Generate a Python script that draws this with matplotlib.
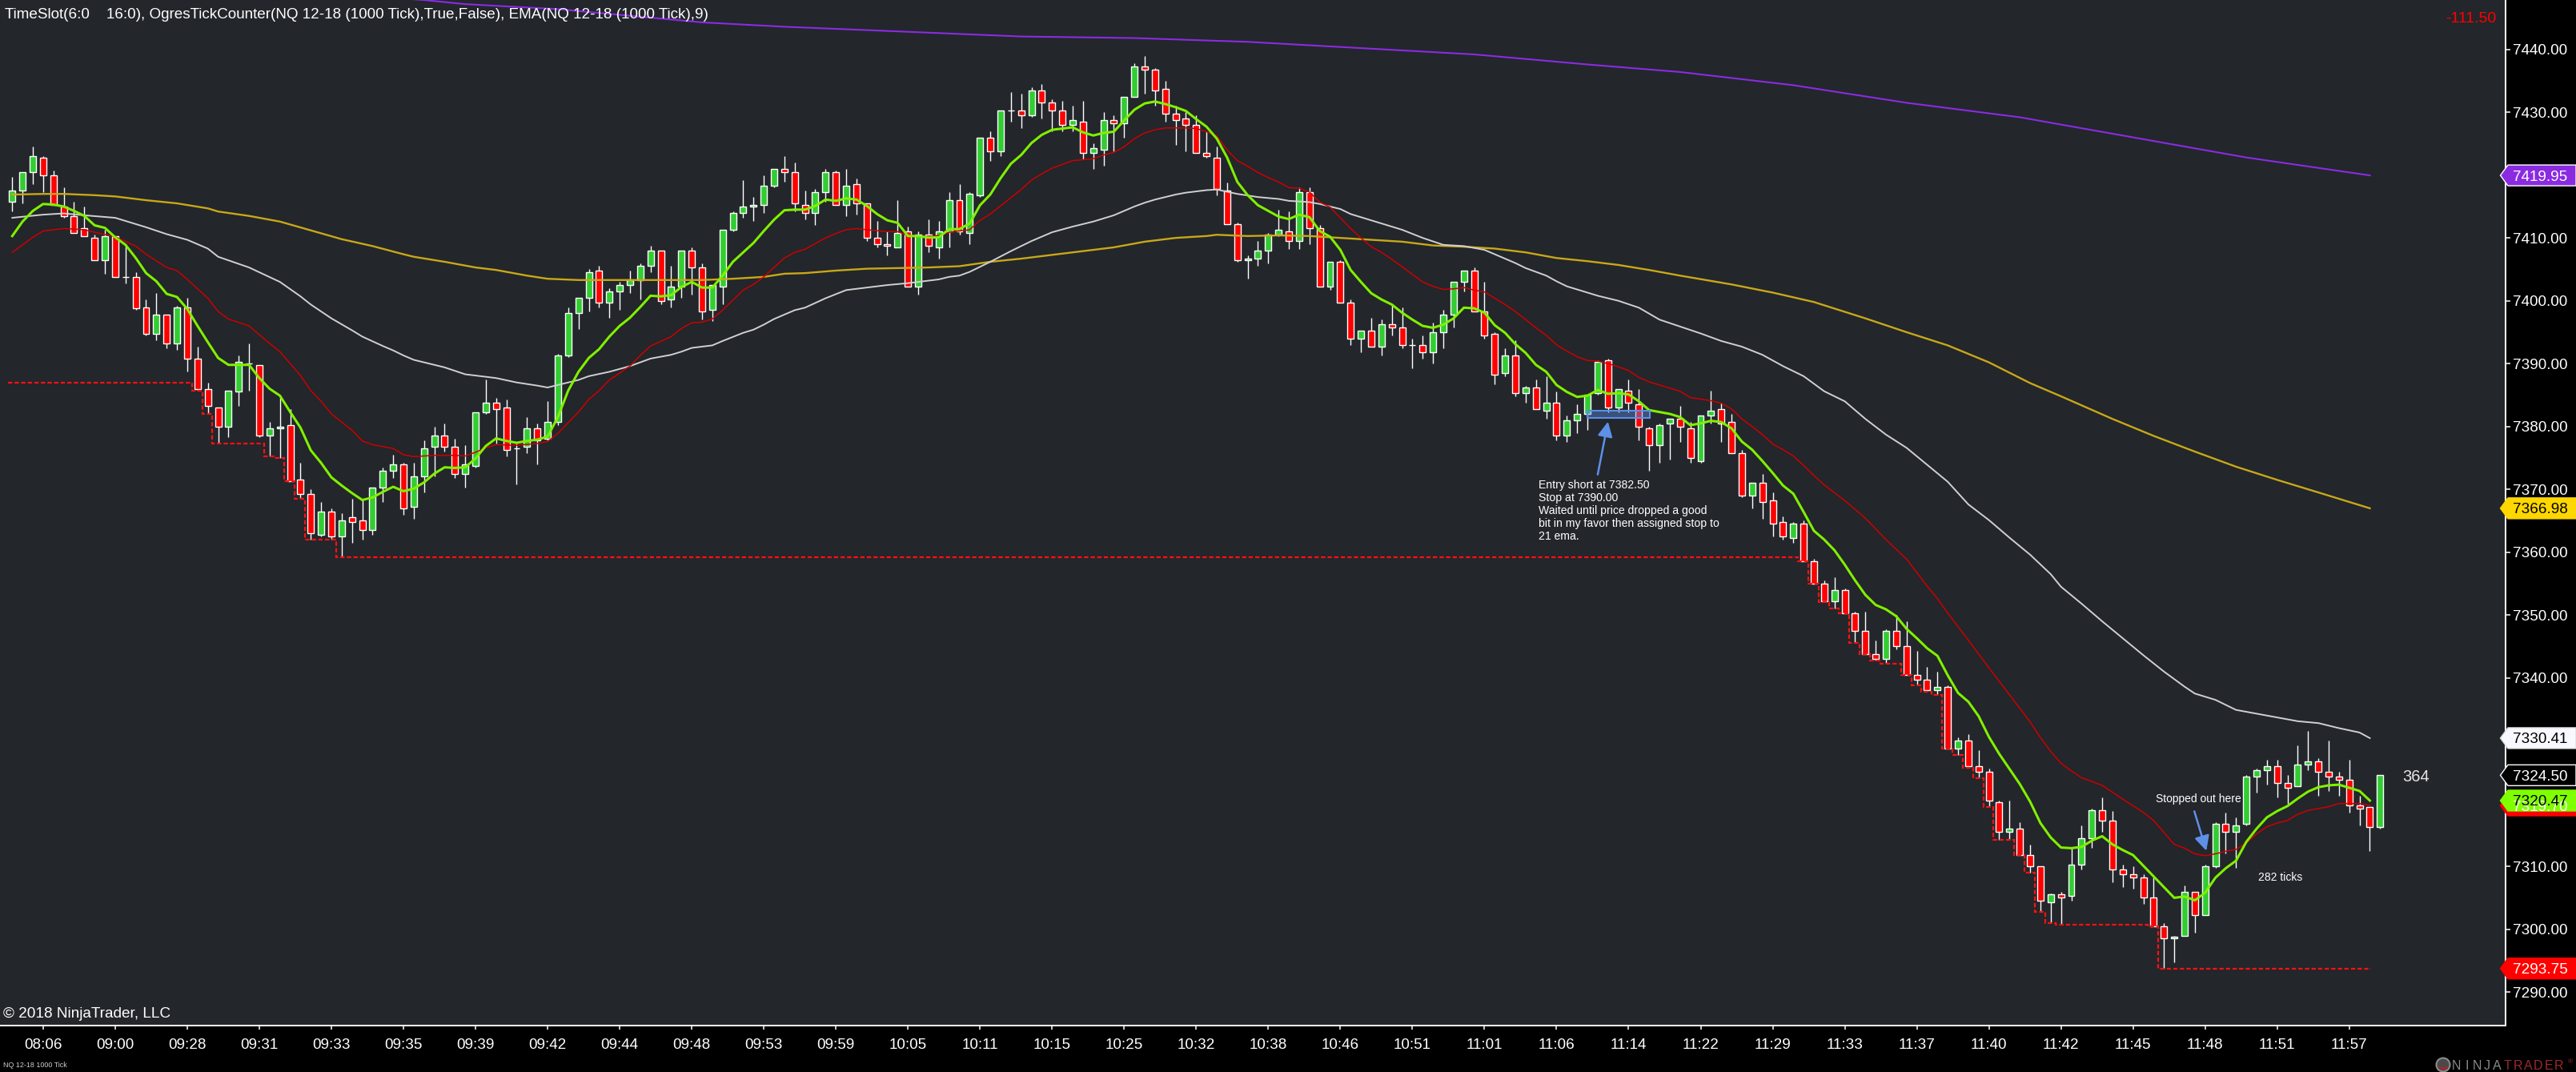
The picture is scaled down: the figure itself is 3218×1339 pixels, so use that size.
import numpy as np
import matplotlib
matplotlib.use("Agg")
import matplotlib.pyplot as plt
import matplotlib.transforms as mtransforms
from matplotlib.patches import Polygon, Rectangle, Circle, Wedge

plt.rcParams['font.family'] = ['Liberation Sans', 'DejaVu Sans']

# ---------------- DATA ----------------
opens = [
    7415.75, 7417.5, 7420.5, 7422.75, 7420.0, 7415.0, 7413.5, 7411.5, 7410.0, 7406.5,
    7410.25, 7403.75, 7403.75, 7399.0, 7394.75, 7397.75, 7393.25, 7399.0, 7390.75, 7386.0,
    7383.0, 7380.0, 7385.5, 7390.0, 7389.75, 7378.5, 7379.75, 7380.25, 7371.5, 7369.25,
    7362.75, 7366.5, 7362.5, 7365.5, 7365.0, 7363.5, 7370.25, 7373.0, 7374.0, 7367.25,
    7372.0, 7376.75, 7378.5, 7376.75, 7372.5, 7373.75, 7382.25, 7383.75, 7383.0, 7376.5,
    7376.75, 7379.75, 7378.0, 7380.75, 7391.25, 7398.0, 7400.5, 7404.75, 7399.75, 7401.5,
    7402.5, 7403.25, 7405.5, 7408.0, 7400.25, 7402.25, 7408.0, 7405.25, 7398.5, 7402.25,
    7411.25, 7414.0, 7415.0, 7415.25, 7418.25, 7421.0, 7420.5, 7415.25, 7414.0, 7417.25,
    7420.5, 7415.25, 7418.5, 7415.5, 7410.0, 7409.0, 7408.5, 7411.0, 7402.25, 7410.5,
    7408.5, 7411.0, 7416.0, 7410.75, 7416.75, 7426.0, 7423.75, 7430.25, 7430.25, 7429.5,
    7433.5, 7431.5, 7430.25, 7428.0, 7428.5, 7423.5, 7424.0, 7428.75, 7428.25, 7432.5,
    7437.25, 7436.75, 7433.75, 7429.75, 7429.0, 7428.0, 7423.5, 7422.75, 7417.5, 7412.25,
    7406.5, 7406.75, 7408.0, 7410.5, 7411.0, 7409.5, 7417.25, 7411.5, 7402.25, 7406.25,
    7399.75, 7394.0, 7395.25, 7392.75, 7396.25, 7395.75, 7393.0, 7393.0, 7391.75, 7395.0,
    7397.75, 7403.0, 7404.75, 7398.25, 7394.75, 7388.5, 7391.25, 7385.25, 7386.25, 7382.5,
    7383.75, 7378.5, 7381.0, 7382.0, 7385.25, 7390.5, 7383.0, 7385.75, 7383.5, 7379.75,
    7377.0, 7380.5, 7381.25, 7379.75, 7374.5, 7381.75, 7382.75, 7380.75, 7375.75, 7369.0,
    7371.0, 7368.25, 7364.75, 7362.25, 7364.5, 7358.5, 7355.0, 7352.25, 7354.0, 7350.25,
    7347.5, 7343.75, 7343.0, 7347.5, 7345.0, 7340.5, 7339.75, 7338.0, 7338.5, 7328.75,
    7330.0, 7326.0, 7325.0, 7320.25, 7315.5, 7316.0, 7311.75, 7310.0, 7304.25, 7305.5,
    7305.25, 7310.25, 7314.5, 7319.0, 7317.25, 7309.5, 7308.75, 7308.25, 7305.0, 7300.5,
    7298.5, 7299.0, 7306.0, 7302.25, 7310.0, 7316.75, 7315.5, 7316.75, 7324.25, 7325.25,
    7326.0, 7323.25, 7322.75, 7326.25, 7326.75, 7325.0, 7324.25, 7323.75, 7319.75, 7319.5,
    7316.25]

highs = [
    7419.75, 7420.5, 7424.5, 7423.0, 7420.75, 7418.0, 7415.75, 7415.0, 7410.5, 7411.25,
    7410.25, 7409.0, 7404.5, 7400.25, 7401.25, 7397.75, 7399.25, 7400.5, 7392.75, 7387.0,
    7383.0, 7385.75, 7391.25, 7393.25, 7389.75, 7380.75, 7384.5, 7382.75, 7374.25, 7370.0,
    7368.0, 7367.0, 7366.25, 7368.5, 7368.5, 7370.25, 7373.5, 7375.5, 7374.25, 7374.25,
    7377.75, 7380.0, 7380.5, 7378.0, 7377.0, 7382.25, 7387.5, 7384.5, 7384.25, 7377.25,
    7381.5, 7380.5, 7384.0, 7391.5, 7399.0, 7400.5, 7405.0, 7405.5, 7402.0, 7403.0,
    7404.75, 7406.0, 7408.75, 7408.0, 7405.5, 7408.0, 7408.5, 7406.0, 7402.5, 7411.25,
    7414.25, 7419.25, 7416.5, 7420.0, 7421.0, 7423.0, 7422.0, 7417.5, 7417.75, 7421.0,
    7420.75, 7421.0, 7419.5, 7415.5, 7412.75, 7411.0, 7416.0, 7411.75, 7411.0, 7413.0,
    7412.75, 7417.25, 7418.5, 7417.25, 7426.0, 7427.0, 7430.25, 7433.25, 7433.0, 7434.0,
    7434.5, 7432.0, 7431.75, 7431.0, 7431.75, 7425.0, 7430.0, 7429.5, 7432.5, 7437.75,
    7439.0, 7437.0, 7435.0, 7431.0, 7430.0, 7429.5, 7427.0, 7424.5, 7418.75, 7412.5,
    7407.25, 7409.5, 7410.75, 7414.5, 7414.25, 7418.0, 7418.0, 7412.0, 7406.25, 7406.5,
    7400.25, 7395.25, 7397.25, 7397.0, 7399.5, 7399.0, 7394.0, 7394.5, 7396.5, 7398.5,
    7403.0, 7404.75, 7405.25, 7403.0, 7395.0, 7392.5, 7393.75, 7386.5, 7387.5, 7388.0,
    7385.5, 7381.75, 7383.5, 7385.0, 7390.5, 7390.75, 7386.0, 7387.5, 7386.0, 7380.0,
    7380.5, 7381.25, 7383.25, 7380.75, 7381.75, 7385.75, 7383.75, 7382.0, 7376.25, 7371.0,
    7372.5, 7369.5, 7365.75, 7364.75, 7365.0, 7359.0, 7355.5, 7356.0, 7354.25, 7350.5,
    7350.5, 7346.0, 7347.75, 7350.0, 7349.0, 7344.25, 7341.75, 7341.0, 7338.75, 7330.5,
    7331.0, 7328.5, 7325.5, 7320.5, 7320.5, 7317.0, 7313.5, 7310.0, 7305.75, 7306.0,
    7313.0, 7316.5, 7319.25, 7321.0, 7318.75, 7310.25, 7310.0, 7308.75, 7308.25, 7301.0,
    7299.0, 7307.0, 7306.0, 7310.25, 7317.0, 7318.5, 7317.75, 7324.5, 7325.5, 7327.0,
    7327.0, 7324.5, 7329.25, 7331.5, 7327.25, 7330.0, 7325.0, 7327.0, 7321.25, 7319.5,
    7324.5]

lows = [
    7414.25, 7415.5, 7418.5, 7417.25, 7415.25, 7413.25, 7410.75, 7410.25, 7406.5, 7404.25,
    7403.75, 7402.75, 7398.5, 7394.5, 7393.75, 7392.5, 7392.25, 7388.75, 7385.75, 7382.0,
    7377.25, 7378.25, 7383.25, 7385.75, 7378.25, 7375.25, 7375.0, 7371.25, 7368.5, 7362.0,
    7362.5, 7362.0, 7359.25, 7361.5, 7362.0, 7362.75, 7368.0, 7371.75, 7366.0, 7365.25,
    7369.5, 7372.0, 7376.0, 7371.75, 7370.25, 7373.5, 7382.0, 7377.25, 7375.25, 7370.75,
    7375.75, 7374.0, 7377.75, 7380.25, 7391.0, 7395.5, 7398.25, 7399.0, 7397.25, 7398.5,
    7401.25, 7400.25, 7404.5, 7399.5, 7399.0, 7400.5, 7401.0, 7397.0, 7396.75, 7399.5,
    7411.0, 7413.25, 7412.75, 7414.0, 7418.0, 7419.0, 7414.25, 7413.0, 7412.0, 7415.75,
    7415.25, 7413.5, 7413.75, 7409.5, 7408.5, 7407.25, 7408.5, 7402.25, 7401.0, 7407.75,
    7406.75, 7408.5, 7410.5, 7409.0, 7416.5, 7422.25, 7423.0, 7428.5, 7427.5, 7429.25,
    7429.0, 7427.0, 7427.0, 7427.0, 7422.5, 7421.0, 7421.5, 7423.75, 7426.0, 7432.5,
    7433.0, 7431.0, 7428.5, 7424.75, 7423.75, 7423.5, 7422.75, 7416.75, 7412.25, 7406.25,
    7403.5, 7405.5, 7406.0, 7410.25, 7408.25, 7408.25, 7409.0, 7402.25, 7401.75, 7399.75,
    7393.0, 7391.75, 7392.75, 7391.25, 7394.5, 7392.5, 7389.25, 7390.75, 7390.0, 7392.5,
    7395.75, 7401.5, 7398.25, 7394.0, 7386.75, 7388.0, 7384.75, 7383.75, 7382.75, 7381.25,
    7377.75, 7377.5, 7379.0, 7379.5, 7385.0, 7382.25, 7382.25, 7382.25, 7377.75, 7373.0,
    7374.25, 7374.75, 7377.5, 7374.25, 7374.25, 7380.5, 7377.5, 7375.75, 7368.75, 7367.0,
    7365.25, 7362.5, 7362.0, 7361.5, 7358.5, 7355.0, 7352.0, 7351.0, 7350.25, 7345.5,
    7343.75, 7342.75, 7342.25, 7344.5, 7340.5, 7338.75, 7337.75, 7337.25, 7328.75, 7327.75,
    7325.75, 7324.0, 7319.5, 7314.25, 7314.25, 7311.75, 7309.0, 7302.75, 7301.0, 7300.75,
    7304.5, 7309.5, 7313.0, 7315.5, 7307.5, 7306.75, 7306.5, 7304.0, 7300.5, 7293.75,
    7294.75, 7299.0, 7299.5, 7302.25, 7309.75, 7312.0, 7309.75, 7316.5, 7321.75, 7323.0,
    7321.0, 7320.0, 7322.75, 7325.25, 7321.25, 7322.0, 7321.25, 7318.5, 7316.5, 7312.5,
    7316.0]

closes = [
    7417.5, 7420.5, 7423.0, 7420.0, 7415.25, 7413.5, 7410.75, 7410.25, 7406.5, 7410.25,
    7403.75, 7403.75, 7398.75, 7394.75, 7397.75, 7393.25, 7399.0, 7390.75, 7386.0, 7383.25,
    7380.0, 7385.75, 7390.25, 7390.0, 7378.5, 7379.75, 7380.0, 7371.25, 7369.25, 7363.0,
    7366.5, 7362.5, 7365.0, 7364.75, 7363.5, 7370.25, 7373.0, 7374.0, 7367.0, 7372.0,
    7376.5, 7378.5, 7376.75, 7372.5, 7374.0, 7382.25, 7383.75, 7382.75, 7376.25, 7376.5,
    7379.75, 7377.75, 7380.75, 7391.25, 7398.0, 7400.5, 7404.5, 7399.75, 7401.5, 7402.5,
    7403.25, 7405.5, 7408.0, 7400.0, 7402.25, 7408.0, 7405.25, 7398.25, 7402.5, 7411.25,
    7414.0, 7415.0, 7415.25, 7418.25, 7421.0, 7420.5, 7415.5, 7414.0, 7417.25, 7420.5,
    7415.25, 7418.25, 7415.5, 7410.0, 7409.0, 7408.75, 7410.75, 7402.25, 7410.5, 7408.75,
    7411.0, 7416.0, 7411.0, 7417.0, 7426.0, 7423.75, 7430.25, 7430.25, 7429.5, 7433.5,
    7431.5, 7430.25, 7428.0, 7428.75, 7423.5, 7424.25, 7428.75, 7428.25, 7432.5, 7437.25,
    7436.75, 7433.5, 7429.75, 7428.75, 7428.0, 7423.5, 7423.0, 7417.75, 7412.25, 7406.5,
    7406.75, 7408.0, 7410.5, 7411.25, 7409.5, 7417.25, 7411.5, 7402.25, 7406.25, 7399.75,
    7394.0, 7395.25, 7392.75, 7396.25, 7395.75, 7393.0, 7393.0, 7391.75, 7395.0, 7397.75,
    7403.0, 7404.75, 7398.25, 7394.5, 7388.25, 7391.25, 7385.25, 7386.25, 7382.75, 7383.75,
    7378.5, 7381.0, 7382.0, 7385.0, 7390.25, 7383.0, 7386.0, 7383.75, 7380.0, 7377.0,
    7380.25, 7381.25, 7380.0, 7375.0, 7381.75, 7382.5, 7380.5, 7375.75, 7369.0, 7371.0,
    7368.0, 7364.5, 7362.5, 7364.5, 7358.5, 7355.0, 7352.25, 7354.0, 7350.25, 7347.5,
    7343.75, 7343.0, 7347.5, 7345.0, 7340.5, 7339.75, 7338.0, 7338.5, 7328.75, 7330.0,
    7326.0, 7325.0, 7320.5, 7315.5, 7316.0, 7311.75, 7310.0, 7304.5, 7305.5, 7305.0,
    7310.25, 7314.5, 7319.0, 7317.25, 7309.5, 7308.75, 7308.25, 7305.0, 7300.5, 7298.5,
    7298.75, 7306.0, 7302.25, 7310.0, 7316.75, 7315.5, 7316.5, 7324.25, 7325.25, 7326.0,
    7323.25, 7322.5, 7326.25, 7326.75, 7325.0, 7324.25, 7323.75, 7319.75, 7319.25, 7316.25,
    7324.5]

# fast EMA (bright green), one reading per bar 0..229
ema_fast = [
    7410.3, 7412.6, 7414.3, 7415.4, 7415.3, 7415.0, 7414.3, 7413.5, 7412.0, 7411.6,
    7410.1, 7408.9, 7406.8, 7404.4, 7403.1, 7401.1, 7400.6, 7398.7, 7396.0, 7393.4,
    7390.9, 7389.8, 7389.8, 7389.8, 7387.7, 7386.0, 7384.9, 7382.3, 7379.8, 7376.2,
    7374.2, 7371.9, 7370.6, 7369.4, 7368.3, 7368.7, 7369.6, 7370.4, 7369.7, 7370.1,
    7371.1, 7372.5, 7373.5, 7373.4, 7373.5, 7374.9, 7376.9, 7378.1, 7377.7, 7377.4,
    7377.7, 7377.9, 7378.4, 7381.5, 7385.7, 7388.7, 7390.9, 7392.3, 7394.3, 7396.0,
    7397.3, 7399.0, 7400.8, 7400.7, 7400.9, 7402.2, 7403.0, 7402.1, 7402.1, 7404.0,
    7406.2, 7407.7, 7409.2, 7411.1, 7412.9, 7414.4, 7414.5, 7414.5, 7415.1, 7416.1,
    7415.9, 7416.3, 7416.1, 7415.1, 7413.8, 7412.8, 7412.4, 7410.3, 7410.3, 7410.05,
    7410.1, 7411.4, 7411.4, 7412.3, 7415.2, 7416.9, 7419.5, 7421.8, 7423.2, 7425.1,
    7426.4, 7427.2, 7427.4, 7427.6, 7426.8, 7426.3, 7426.7, 7426.9, 7428.7, 7430.4,
    7431.4, 7431.7, 7431.3, 7430.8, 7430.2, 7428.9, 7427.7, 7425.8, 7422.8, 7418.9,
    7416.8, 7415.2, 7414.3, 7413.4, 7413.0, 7413.7, 7413.3, 7411.1, 7410.2, 7408.1,
    7404.9, 7403.0, 7401.2, 7400.2, 7399.4, 7398.1, 7397.0, 7396.0, 7395.7, 7396.2,
    7397.2, 7398.9, 7398.8, 7398.1, 7396.1, 7394.9, 7393.1, 7391.7, 7389.8, 7388.7,
    7386.6, 7385.5, 7384.7, 7384.9, 7385.8, 7385.2, 7385.3, 7385.1, 7384.0, 7382.6,
    7382.3, 7382.0, 7381.5, 7380.2, 7380.5, 7380.9, 7380.7, 7379.7, 7377.6, 7376.3,
    7374.5, 7372.6, 7370.6, 7369.3, 7366.4, 7363.4, 7362.0, 7360.3, 7358.0, 7355.5,
    7353.2, 7351.6, 7350.9, 7349.8, 7347.8, 7346.3, 7344.7, 7343.5, 7340.4, 7337.6,
    7336.2, 7333.9, 7330.6, 7327.9, 7325.5, 7323.1, 7320.3, 7316.9, 7314.6, 7313.0,
    7312.9, 7313.1, 7314.1, 7314.8, 7313.5, 7312.6, 7311.8, 7310.1, 7308.4, 7306.7,
    7305.0, 7305.2, 7304.6, 7305.8, 7308.2, 7309.7, 7310.9, 7313.9, 7316.0, 7317.8,
    7318.8, 7319.6, 7320.8, 7321.9, 7322.6, 7322.9, 7323.0, 7322.5, 7322.0, 7320.47]

# red EMA, sampled readings (bar, value)
ema_red_bars = [0, 2, 3, 5, 7, 8, 10, 12, 13, 15, 16, 17, 19, 20, 21, 23, 25, 26, 28, 29,
                30, 31, 33, 34, 35, 37, 38, 39, 41, 43, 44, 45, 46, 47, 49, 51, 52, 53, 54, 55,
                56, 57, 58, 60, 61, 62, 64, 65, 66, 67, 68, 69, 70, 71, 72, 73, 74, 75, 76, 77,
                79, 80, 81, 82, 83, 85, 86, 87, 89, 90, 91, 93, 94, 95, 96, 98, 99, 100, 101, 103,
                105, 106, 107, 108, 109, 110, 111, 112, 114, 115, 116, 117, 118, 119, 120, 121, 122, 123, 124, 125,
                126, 127, 128, 129, 130, 131, 132, 133, 134, 135, 136, 137, 138, 139, 140, 141, 142, 143, 144, 145,
                146, 147, 148, 149, 150, 151, 152, 153, 154, 155, 156, 157, 158, 159, 160, 162, 163, 165, 166, 167,
                168, 169, 170, 171, 172, 173, 174, 175, 176, 178, 180, 182, 184, 186, 187, 188, 190, 192, 194, 196,
                197, 198, 199, 200, 201, 203, 205, 207, 208, 209, 210, 211, 212, 213, 214, 215, 216, 217, 218, 219,
                220, 221, 222, 223, 224, 225, 226, 227, 228, 229]
ema_red_vals = [7407.7, 7410.1, 7411.1, 7411.5, 7411.3, 7410.9, 7410.2, 7408.7, 7407.4, 7405.3,
                7404.8, 7403.4, 7400.4, 7398.3, 7397.1, 7396.0, 7393.2, 7391.9, 7388.1, 7385.7,
                7384.0, 7382.0, 7379.4, 7377.7, 7377.1, 7376.5, 7375.5, 7375.2, 7375.4, 7375.4,
                7375.3, 7375.9, 7376.6, 7377.1, 7377.0, 7377.3, 7377.6, 7378.9, 7380.6, 7382.3,
                7384.3, 7385.7, 7387.4, 7389.6, 7391.3, 7392.8, 7394.3, 7395.6, 7396.5, 7396.6,
                7397.1, 7398.5, 7400.1, 7401.7, 7402.6, 7403.8, 7405.3, 7406.8, 7407.7, 7408.2,
                7410.0, 7410.7, 7411.3, 7411.5, 7411.3, 7411.0, 7411.0, 7410.4, 7410.2, 7410.4,
                7410.9, 7411.3, 7412.8, 7413.8, 7415.1, 7417.7, 7419.2, 7420.2, 7421.1, 7422.3,
                7422.6, 7423.2, 7423.6, 7424.5, 7425.8, 7426.7, 7427.2, 7427.5, 7427.5, 7427.4,
                7426.9, 7426.2, 7424.0, 7422.3, 7421.4, 7420.4, 7419.6, 7418.9, 7418.0, 7417.9,
                7417.3, 7415.7, 7414.9, 7413.2, 7411.5, 7410.0, 7408.6, 7407.7, 7406.6, 7405.4,
                7404.2, 7403.0, 7402.3, 7401.8, 7401.9, 7402.1, 7401.7, 7401.4, 7400.4, 7399.4,
                7398.3, 7397.0, 7395.7, 7394.5, 7393.0, 7392.0, 7391.1, 7390.5, 7390.4, 7390.0,
                7389.5, 7388.9, 7387.8, 7387.1, 7386.6, 7385.6, 7384.6, 7384.1, 7383.7, 7382.8,
                7381.2, 7380.0, 7378.7, 7377.2, 7376.3, 7375.3, 7373.8, 7372.2, 7370.7, 7368.2,
                7365.4, 7362.0, 7358.9, 7354.6, 7352.6, 7350.3, 7346.0, 7341.6, 7337.3, 7333.0,
                7330.5, 7328.3, 7326.4, 7325.2, 7324.1, 7322.9, 7320.7, 7318.6, 7317.3, 7315.4,
                7313.5, 7312.9, 7312.0, 7311.7, 7312.0, 7312.4, 7312.7, 7313.7, 7315.2, 7316.3,
                7316.9, 7317.3, 7318.3, 7318.9, 7319.2, 7319.5, 7320.0, 7320.0, 7320.0, 7319.7]

# white EMA, sampled readings
ema_white_bars = [0, 3, 5, 7, 10, 13, 15, 17, 19, 20, 23, 26, 28, 29, 31, 33, 34, 36, 37, 38,
                  39, 40, 42, 44, 46, 47, 49, 51, 52, 53, 55, 56, 58, 60, 62, 64, 65, 66, 68, 69,
                  71, 72, 73, 74, 76, 77, 79, 81, 83, 85, 87, 88, 90, 91, 92, 93, 95, 97, 98, 99,
                  101, 103, 105, 106, 107, 108, 109, 110, 111, 112, 113, 114, 115, 116, 117, 119, 121, 123, 124, 126,
                  127, 129, 130, 131, 133, 135, 137, 139, 141, 143, 144, 146, 147, 149, 150, 151, 153, 154, 156, 158,
                  160, 162, 164, 166, 168, 170, 172, 174, 176, 178, 180, 182, 184, 186, 188, 190, 192, 194, 196, 198,
                  199, 201, 203, 205, 207, 209, 211, 212, 214, 216, 218, 220, 222, 224, 226, 228, 229]
ema_white_vals = [7413.2, 7413.7, 7413.9, 7413.6, 7413.2, 7411.7, 7410.6, 7409.7, 7408.3, 7407.0,
                  7405.3, 7403.0, 7400.7, 7399.4, 7397.2, 7395.3, 7394.3, 7392.8, 7392.1, 7391.3,
                  7390.6, 7390.2, 7389.4, 7388.3, 7387.9, 7387.7, 7387.0, 7386.5, 7386.2, 7386.6,
                  7387.4, 7388.0, 7388.7, 7389.6, 7390.8, 7391.4, 7391.9, 7392.5, 7392.9, 7393.6,
                  7394.9, 7395.4, 7396.2, 7397.1, 7398.5, 7398.9, 7400.4, 7401.7, 7402.1, 7402.5,
                  7402.8, 7403.0, 7403.4, 7403.8, 7404.0, 7404.6, 7406.2, 7407.9, 7408.7, 7409.5,
                  7410.9, 7411.8, 7412.6, 7413.1, 7413.6, 7414.3, 7415.0, 7415.6, 7416.1, 7416.5,
                  7416.9, 7417.2, 7417.4, 7417.6, 7417.7, 7417.0, 7416.5, 7416.2, 7415.9, 7415.7,
                  7415.4, 7414.6, 7413.8, 7413.3, 7412.3, 7411.3, 7410.0, 7408.9, 7408.7, 7408.1,
                  7407.4, 7406.0, 7405.2, 7404.0, 7403.1, 7402.3, 7401.3, 7400.8, 7400.0, 7398.9,
                  7397.0, 7395.9, 7394.8, 7393.6, 7392.7, 7391.4, 7389.6, 7388.0, 7385.6, 7384.0,
                  7381.2, 7378.7, 7376.6, 7373.9, 7371.2, 7367.6, 7365.1, 7362.3, 7359.6, 7356.5,
                  7354.5, 7351.8, 7349.0, 7346.3, 7343.6, 7341.0, 7338.6, 7337.5, 7336.5, 7334.9,
                  7334.3, 7333.7, 7333.1, 7332.8, 7332.0, 7331.3, 7330.41]

# gold EMA, sampled readings
ema_gold_bars = [0, 3, 5, 8, 10, 13, 16, 19, 20, 23, 26, 29, 32, 35, 38, 39, 42, 45, 47, 50,
                 52, 55, 58, 61, 64, 67, 70, 73, 75, 77, 80, 83, 86, 89, 92, 95, 98, 101, 104, 107,
                 110, 113, 116, 117, 120, 123, 126, 129, 132, 135, 138, 141, 144, 147, 150, 153, 156, 159, 162, 167,
                 171, 175, 180, 184, 188, 192, 196, 199, 204, 208, 212, 216, 220, 224, 229]
ema_gold_vals = [7416.9, 7417.0, 7417.0, 7416.8, 7416.6, 7416.0, 7415.5, 7414.7, 7414.2, 7413.5,
                 7412.6, 7411.2, 7409.8, 7408.7, 7407.4, 7407.0, 7406.2, 7405.3, 7404.9, 7404.0,
                 7403.5, 7403.3, 7403.3, 7403.3, 7403.3, 7403.3, 7403.5, 7403.8, 7404.3, 7404.4,
                 7404.8, 7405.1, 7405.2, 7405.3, 7405.5, 7406.2, 7406.7, 7407.3, 7407.9, 7408.5,
                 7409.4, 7410.0, 7410.3, 7410.5, 7410.3, 7410.4, 7410.3, 7410.0, 7409.7, 7409.4,
                 7408.8, 7408.6, 7408.3, 7407.7, 7406.8, 7406.3, 7405.7, 7404.9, 7404.0, 7402.6,
                 7401.3, 7399.8, 7397.2, 7395.0, 7392.9, 7390.2, 7386.9, 7384.8, 7381.2, 7378.5,
                 7376.0, 7373.6, 7371.5, 7369.5, 7366.98]

# purple EMA, sampled readings (enters the panel from above)
ema_purple_bars = [36, 40, 44, 53, 67, 75, 84, 98, 109, 120, 131, 142, 153, 162, 173, 184,
                   195, 206, 217, 229]
ema_purple_vals = [7448.3, 7447.85, 7447.2, 7446.4, 7444.3, 7443.6, 7443.0, 7442.05, 7441.8,
                   7441.2, 7440.2, 7439.2, 7437.6, 7436.4, 7434.3, 7431.5, 7429.2, 7426.0,
                   7422.8, 7419.95]

# running-low (dashed red) levels and the bar each level starts at
low_step_bars = [0, 18, 19, 20, 25, 26, 27, 28, 29, 32, 174, 175, 176, 177, 178, 179, 180,
                 181, 182, 184, 185, 186, 187, 188, 189, 190, 191, 192, 193, 195, 196, 197,
                 198, 199, 208, 209]
low_step_vals = [7387.0, 7385.75, 7382.0, 7377.25, 7375.25, 7375.0, 7371.25, 7368.5, 7362.0,
                 7359.25, 7358.5, 7355.0, 7352.0, 7351.0, 7350.25, 7345.5, 7343.75, 7342.75,
                 7342.25, 7340.5, 7338.75, 7337.75, 7337.25, 7328.75, 7327.75, 7325.75, 7324.0,
                 7319.5, 7314.25, 7311.75, 7309.0, 7302.75, 7301.0, 7300.75, 7300.5, 7293.75]
low_step_end = 229.1

time_labels = ['08:06', '09:00', '09:28', '09:31', '09:33', '09:35', '09:39', '09:42', '09:44',
               '09:48', '09:53', '09:59', '10:05', '10:11', '10:15', '10:25', '10:32', '10:38',
               '10:46', '10:51', '11:01', '11:06', '11:14', '11:22', '11:29', '11:33', '11:37',
               '11:40', '11:42', '11:45', '11:48', '11:51', '11:57']
time_label_bars = [3 + 7 * k for k in range(len(time_labels))]

price_ticks = [7290, 7300, 7310, 7320, 7330, 7340, 7350, 7360, 7370, 7380, 7390, 7400,
               7410, 7420, 7430, 7440]

flag_values = [7419.95, 7366.98, 7330.41, 7324.50, 7319.70, 7320.47, 7293.75]
flag_faces = ['#8A2BE2', '#FFD700', '#F8F8FF', '#000000', '#FF0000', '#7FFF00', '#FF0000']
flag_textc = ['white', 'black', 'black', 'white', 'white', 'black', 'white']
flag_edges = ['white', '#FFD700', '#DDDDDD', 'white', '#FF0000', '#7FFF00', '#FF0000']

# trade markers (bar, price)
entry_box = (153.0, 159.1, 7381.32, 7382.47)
entry_arrow = ((154.0, 7372.35), (155.0, 7380.76))
stop_arrow = ((211.95, 7318.77), (213.12, 7312.48))

title = ("TimeSlot(6:0    16:0), OgresTickCounter(NQ 12-18 (1000 Tick),True,False), "
         "EMA(NQ 12-18 (1000 Tick),9)")
entry_note = ["Entry short at 7382.50", "Stop at 7390.00", "Waited until price dropped a good",
              "bit in my favor then assigned stop to", "21 ema."]

# ---------------- FIGURE ----------------
W, H = 3218, 1339
PLOT_R, PLOT_B = 3130, 1281
fig = plt.figure(figsize=(W / 100, H / 100), dpi=100, facecolor='black')
ax = fig.add_axes([0, (H - PLOT_B) / H, PLOT_R / W, PLOT_B / H])
ax.set_facecolor('#23262B')

SP = 12.861          # px per bar
PPT = 7.85           # px per point
ax.set_xlim(-15.3 / SP, (PLOT_R - 15.3) / SP)
ax.set_ylim(7440 - (PLOT_B - 61.67) / PPT, 7440 + 61.67 / PPT)

o = np.array(opens); h = np.array(highs); l = np.array(lows); c = np.array(closes)
x = np.arange(len(o))
cols = np.where(c > o, '#32CD32', np.where(c < o, '#FF0000', '#FFFFFF'))

ax.vlines(x, l, h, color='white', lw=1.0, zorder=3)
ax.bar(x, np.abs(c - o), bottom=np.minimum(o, c), width=0.62, color=cols,
       edgecolor='white', linewidth=1.0, zorder=4)

# indicator lines
ax.plot(ema_purple_bars, ema_purple_vals, color='#8A2BE2', lw=1.5, zorder=5)
ax.plot(ema_gold_bars, ema_gold_vals, color='#C9A818', lw=1.7, zorder=5)
ax.plot(ema_white_bars, ema_white_vals, color='#D0D0D0', lw=1.4, zorder=5)
ax.plot(ema_red_bars, ema_red_vals, color='#CC0000', lw=1.1, zorder=5)
ax.plot(np.arange(len(ema_fast)), ema_fast, color='#80F000', lw=2.2, zorder=6)

# running low dashed steps
edges = [b - 0.55 for b in low_step_bars] + [low_step_end]
edges[0] = -0.45
ax.stairs(low_step_vals, edges, baseline=None, color='#FF1010', lw=1.6,
          linestyle=(0, (2.4, 1.3)), zorder=6)

# entry box & arrows
bx0, bx1, by0, by1 = entry_box
ax.add_patch(Rectangle((bx0, by0), bx1 - bx0, by1 - by0, facecolor=(0.36, 0.56, 0.91, 0.42),
                       edgecolor='#5B8FE8', lw=1.5, zorder=7))
for (tail, tip) in (entry_arrow, stop_arrow):
    ax.annotate('', xy=tip, xytext=tail,
                arrowprops=dict(arrowstyle='-|>,head_length=0.7,head_width=0.35',
                                color='#5E90E8', lw=1.8, shrinkA=0, shrinkB=0,
                                mutation_scale=16), zorder=7)

# axes styling
for s in ('top', 'left'):
    ax.spines[s].set_visible(False)
for s in ('bottom', 'right'):
    ax.spines[s].set_color('white')
    ax.spines[s].set_linewidth(1.4)
ax.yaxis.tick_right()
ax.set_yticks(price_ticks)
ax.set_yticklabels(['%.2f' % v for v in price_ticks])
ax.set_xticks(time_label_bars)
ax.set_xticklabels(time_labels)
ax.tick_params(axis='y', colors='white', labelsize=13.6, length=4.5, width=1.1, pad=2)
ax.tick_params(axis='x', colors='white', labelsize=13.6, length=3.5, width=1.1, pad=8)

# price flags
trans = mtransforms.blended_transform_factory(fig.transFigure, ax.transData)
hh = 13.0 / PPT
for v, fc, tc, ec in zip(flag_values, flag_faces, flag_textc, flag_edges):
    pts = [(3123.5 / W, v), (3133.0 / W, v + hh), (1.0, v + hh), (1.0, v - hh), (3133.0 / W, v - hh)]
    ax.add_patch(Polygon(pts, closed=True, transform=trans, facecolor=fc, edgecolor=ec,
                         lw=1.0, clip_on=False, zorder=20))
    ax.text(3139.5 / W, v, '%.2f' % v, transform=trans, color=tc, fontsize=13.6,
            ha='left', va='center_baseline', clip_on=False, zorder=21)

# texts (pixel placement helper)
def fx(px):
    return px / W

def fy(py):
    return 1 - py / H

fig.text(fx(5.6), fy(23.3), title, color='white', fontsize=13.6, va='baseline', ha='left')
fig.text(fx(3118), fy(28.3), '-111.50', color='#FF0000', fontsize=14.0, va='baseline', ha='right')
for i, line in enumerate(entry_note):
    fig.text(fx(1921.7), fy(610 + 16 * i), line, color='white', fontsize=10.1,
             va='baseline', ha='left')
fig.text(fx(2693.4), fy(1002), 'Stopped out here', color='white', fontsize=10.0,
         va='baseline', ha='left')
fig.text(fx(2821), fy(1100), '282 ticks', color='white', fontsize=10.0, va='baseline', ha='left')
fig.text(fx(3001.5), fy(975.8), '364', color='#E6E6E6', fontsize=14.5, va='baseline', ha='left')
fig.text(fx(4), fy(1270.7), '\u00a9 2018 NinjaTrader, LLC', color='white', fontsize=13.7,
         va='baseline', ha='left')
fig.text(fx(4), fy(1332.7), 'NQ 12-18 1000 Tick', color='#CFCFCF', fontsize=6.4,
         va='baseline', ha='left')

# NinjaTrader logo
ident = mtransforms.IdentityTransform()
fig.patches.append(Circle((3052, H - 1330), 8.5, transform=ident, facecolor='#4A4A4A',
                          edgecolor='#8C8C8C', lw=1.5))
fig.patches.append(Wedge((3052, H - 1330), 6.5, 200, 340, width=3, transform=ident,
                         facecolor='#A0282D', edgecolor='none'))
logo = 'NINJATRADER'
for i, ch in enumerate(logo):
    fig.text(fx(3068.5 + 12.8 * i), fy(1336), ch, color='#8A8A8A' if i < 5 else '#A0282D',
             fontsize=11.5, ha='center', va='baseline', fontweight='light')
fig.text(fx(3211), fy(1328), '\u00ae', color='#A0282D', fontsize=6, ha='center', va='baseline')

fig.savefig('out.png', dpi=100, facecolor='black')
